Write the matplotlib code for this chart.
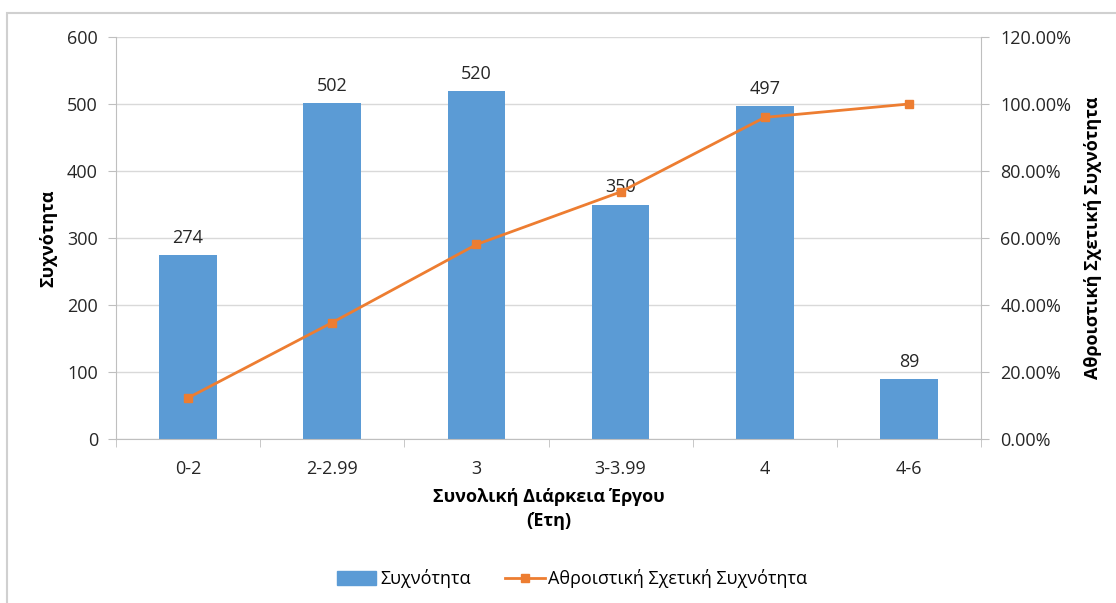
import matplotlib.pyplot as plt
from matplotlib.patches import Rectangle

plt.rcParams['font.family'] = ['Open Sans', 'DejaVu Sans']

categories = ["0-2", "2-2.99", "3", "3-3.99", "4", "4-6"]
counts = [274, 502, 520, 350, 497, 89]
cum_pct = [12.28, 34.77, 58.06, 73.75, 96.01, 100.0]

blue = "#5B9BD5"
orange = "#ED7D31"
grid_col = "#D9D9D9"
axis_col = "#BFBFBF"
txt_col = "#262626"
fs = 13

fig = plt.figure(figsize=(11.16, 6.03), dpi=100)
fig.patches.append(Rectangle((7 / 1116, -0.1), 1.2, 1 - 13 / 603 + 0.1, transform=fig.transFigure,
                             fill=False, edgecolor="#D0D0D0", linewidth=1.5))

ax = fig.add_axes([116 / 1116, 1 - 439 / 603, (981 - 116) / 1116, (439 - 37) / 603])
x = list(range(len(categories)))
ax.bar(x, counts, width=0.4, color=blue, zorder=2)
for xi, c in zip(x, counts):
    ax.text(xi, c + 12, str(c), ha="center", va="bottom", fontsize=fs, color=txt_col, zorder=5)

ax.set_xlim(-0.5, len(categories) - 0.5)
ax.set_ylim(0, 600)
ax.set_yticks(range(0, 601, 100))
ax.yaxis.grid(True, color=grid_col, linewidth=1)
ax.set_axisbelow(True)
ax.set_xticks(x)
ax.set_xticklabels(categories)
ax.set_xticks([i + 0.5 for i in range(-1, len(categories))], minor=True)
ax.tick_params(axis="x", which="major", length=0, pad=15, labelsize=fs, labelcolor=txt_col)
ax.tick_params(axis="x", which="minor", length=6, color=axis_col)
ax.tick_params(axis="y", length=6, color=axis_col, labelsize=fs, labelcolor=txt_col, pad=7)
for s in ["top", "right"]:
    ax.spines[s].set_visible(False)
for s in ["left", "bottom"]:
    ax.spines[s].set_color(axis_col)

ax.set_ylabel("Συχνότητα", fontsize=fs, fontweight="bold", labelpad=7)
ax.set_xlabel("Συνολική Διάρκεια Έργου\n(Έτη)", fontsize=fs, fontweight="bold",
              labelpad=7, linespacing=1.45)

ax2 = ax.twinx()
ax2.plot(x, [v / 100 for v in cum_pct], color=orange, linewidth=2, marker="s", markersize=6, zorder=3)
ax2.set_ylim(0, 1.2)
ax2.set_yticks([i * 0.2 for i in range(7)])
ax2.set_yticklabels(["%.2f%%" % (i * 20) for i in range(7)])
ax2.tick_params(axis="y", length=6, color=axis_col, labelsize=fs, labelcolor=txt_col, pad=8)
for s in ["top", "left", "bottom"]:
    ax2.spines[s].set_visible(False)
ax2.spines["right"].set_color(axis_col)
ax2.set_ylabel("Αθροιστική Σχετική Συχνότητα", fontsize=fs, fontweight="bold", labelpad=9)

h1 = Rectangle((0, 0), 1, 1, color=blue)
h2 = plt.Line2D([], [], color=orange, linewidth=2, marker="s", markersize=6)
fig.legend([h1, h2], ["Συχνότητα", "Αθροιστική Σχετική Συχνότητα"], loc="center",
           bbox_to_anchor=(572 / 1116, 1 - 579 / 603), ncol=2, frameon=False, fontsize=fs,
           handlelength=2.2, handleheight=0.8, columnspacing=1.9, handletextpad=0.2)

fig.savefig("out.png", dpi=100)
